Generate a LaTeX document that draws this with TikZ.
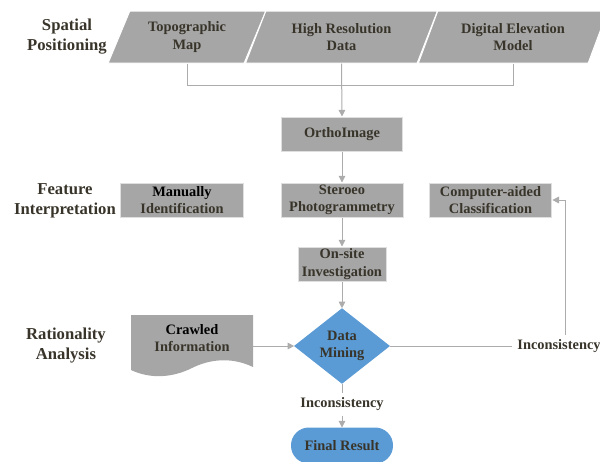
\documentclass[tikz,border=0pt]{standalone}
\usepackage{fontspec}
\setmainfont{Liberation Serif}
\usetikzlibrary{shapes.geometric,arrows.meta}

\definecolor{boxgray}{RGB}{166,166,166}
\definecolor{linegray}{RGB}{172,172,172}
\definecolor{txtgray}{RGB}{56,52,42}
\definecolor{flowblue}{RGB}{91,155,213}

\tikzset{every picture/.style={line width=0.75pt}}
\tikzset{
  stagelabel/.style={font=\bfseries\fontsize{12.5}{15}\selectfont, text=txtgray, align=center},
  boxtext/.style={font=\bfseries\fontsize{10.8}{12.9}\selectfont, text=txtgray, align=center},
  sourcebox/.style={boxtext, trapezium, trapezium left angle=64, trapezium right angle=116,
    trapezium stretches=true, fill=boxgray, draw=white, minimum height=39pt, inner sep=0pt},
  procbox/.style={boxtext, rectangle, fill=boxgray, draw=gray!25, minimum height=25.5pt, inner sep=0pt},
  decision/.style={boxtext, diamond, fill=flowblue, draw=flowblue, minimum width=71pt, minimum height=51pt, inner sep=0pt},
  terminal/.style={boxtext, rectangle, rounded corners=13pt, fill=flowblue, draw=flowblue, minimum width=75.75pt, minimum height=26.25pt},
  link/.style={draw=linegray},
  arrowlink/.style={draw=linegray, -{Triangle[width=5pt,length=5pt]}, color=linegray},
}

\begin{document}
\begin{tikzpicture}[x=0.75pt,y=0.75pt,yscale=-1,xscale=1]
\useasboundingbox (0,0) rectangle (600,461);
\clip (0,0) rectangle (600,461);

% Stage labels
\node[stagelabel] (spatial) at (67,37) {Spatial\\Positioning};
\node[stagelabel] (feature) at (65,201) {Feature\\Interpretation};
\node[stagelabel] (rational) at (66,346) {Rationality\\Analysis};

% Source data
\node[sourcebox, minimum width=118.5pt] (topo) at (187,37) {Topographic\\Map};
\node[sourcebox, minimum width=144.75pt] (hires) at (341.5,37) {High Resolution\\Data};
\node[sourcebox, minimum width=142.5pt] (dem) at (513,37) {Digital Elevation\\Model};

% Process boxes
\node[procbox, minimum width=90.75pt] (ortho) at (342,134) {OrthoImage};
\node[procbox, minimum width=92pt] (manual) at (182,200) {\textcolor{black}{Manually}\\Identification};
\node[procbox, minimum width=91.5pt] (stereo) at (342,200) {Steroeo\\Photogrammetry};
\node[procbox, minimum width=92pt] (cad) at (490.5,200) {Computer-aided\\Classification};
\node[procbox, minimum width=66pt] (onsite) at (342,264) {On-site\\Investigation};

% Crawled information (document)
\fill[boxgray] (131,315) -- (253,315) -- (253,367)
  .. controls (230,356) and (208,360) .. (192,368)
  .. controls (172,378) and (150,379) .. (131,370) -- cycle;
\node[boxtext] (crawled) at (192,338) {\textcolor{black}{Crawled}\\Information};
\coordinate (crawledout) at (253,346);

% Data mining and result
\node[decision] (mining) at (342,346) {Data\\Mining};
\node[boxtext] (incdown) at (342,404) {Inconsistency};
\node[boxtext] (incright) at (559,346) {Inconsistency};
\node[terminal] (final) at (342,445.5) {Final Result};

% Connections
\draw[link] (topo.south) -- ++(0,22) -| (dem.south);
\draw[arrowlink] (hires.south) -- (ortho.north);
\draw[arrowlink] (ortho.south) -- (stereo.north);
\draw[arrowlink] (stereo.south) -- (onsite.north);
\draw[arrowlink] (onsite.south) -- (mining.north);
\draw[arrowlink] (crawledout) -- (mining.west);
\draw[link] (mining.east) -- (incright.west);
\draw[arrowlink] ([xshift=4.5pt]incright.north) |- (cad.east);
\draw[link] (mining.south) -- (incdown.north);
\draw[arrowlink] (incdown.south) -- (final.north);

\end{tikzpicture}
\end{document}
